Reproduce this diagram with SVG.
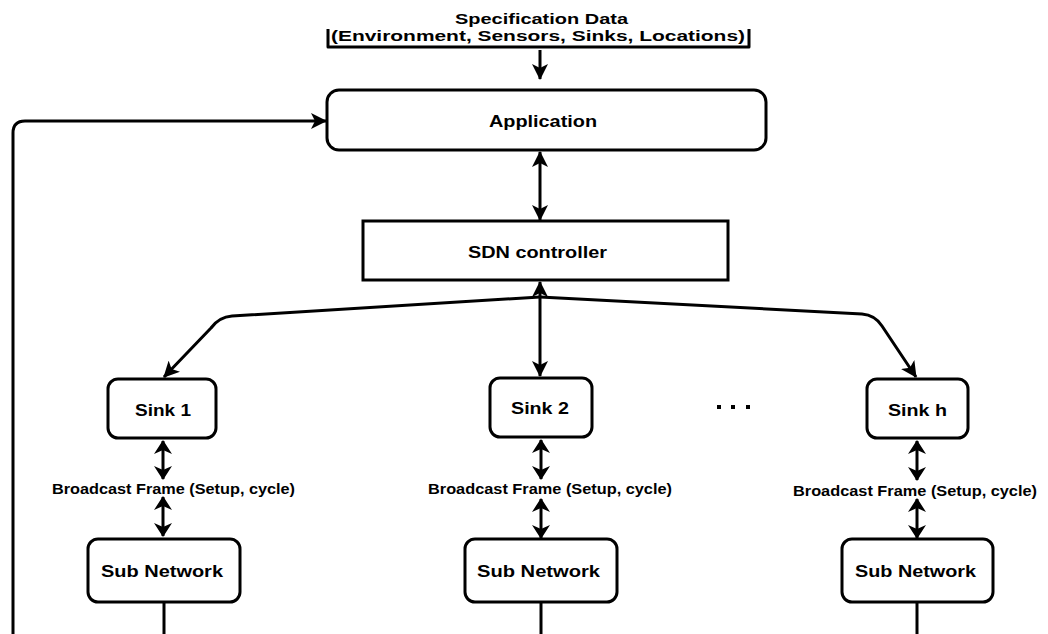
<svg xmlns="http://www.w3.org/2000/svg" width="1048" height="634" viewBox="0 0 1048 634">
<defs>
<style>
.box{fill:#fff;stroke:#000;stroke-width:3}
.ln{fill:none;stroke:#000;stroke-width:3;stroke-linejoin:round}
.t{font-family:"Liberation Sans",Arial,sans-serif;font-weight:bold;fill:#000}
.a{marker-end:url(#ah)}
.d{marker-start:url(#ah);marker-end:url(#ah)}
.s{marker-start:url(#sh);marker-end:url(#sh)}
</style>
<marker id="ah" viewBox="0 0 16 16" refX="15" refY="8" markerWidth="16" markerHeight="16" markerUnits="userSpaceOnUse" orient="auto-start-reverse">
<path d="M0,0 L16,8 L0,16 L4,8 Z" fill="#000"/>
</marker>
<marker id="sh" viewBox="0 0 14 18" refX="13" refY="9" markerWidth="14" markerHeight="18" markerUnits="userSpaceOnUse" orient="auto-start-reverse">
<path d="M0,0 L14,9 L0,18 L4,9 Z" fill="#000"/>
</marker>
</defs>
<rect width="1048" height="634" fill="#fff"/>
<g id="spec">
<text class="t" x="455" y="24" font-size="15" textLength="173" lengthAdjust="spacingAndGlyphs">Specification Data</text>
<text class="t" x="331" y="41" font-size="15" textLength="414" lengthAdjust="spacingAndGlyphs">(Environment, Sensors, Sinks, Locations)</text>
<path class="ln" d="M328,29 L328,47 L749,47 L749,29" stroke-linejoin="miter"/>
</g>
<g id="application">
<rect class="box" x="327" y="90" width="439" height="60" rx="12"/>
<text class="t" x="489" y="127" font-size="16" textLength="108" lengthAdjust="spacingAndGlyphs">Application</text>
</g>
<g id="sdn">
<rect class="box" x="363" y="221" width="365" height="59"/>
<text class="t" x="468" y="258" font-size="16" textLength="139" lengthAdjust="spacingAndGlyphs">SDN controller</text>
</g>
<g id="sink1">
<rect class="box" x="108" y="379" width="108" height="59" rx="10"/>
<text class="t" x="135" y="416" font-size="17" textLength="56" lengthAdjust="spacingAndGlyphs">Sink 1</text>
</g>
<g id="sink2">
<rect class="box" x="490" y="378" width="102" height="59" rx="10"/>
<text class="t" x="511" y="414" font-size="17" textLength="58" lengthAdjust="spacingAndGlyphs">Sink 2</text>
</g>
<g id="sinkh">
<rect class="box" x="867" y="379" width="101" height="59" rx="10"/>
<text class="t" x="888" y="416" font-size="17" textLength="59" lengthAdjust="spacingAndGlyphs">Sink h</text>
</g>
<g id="dots">
<rect x="717" y="405" width="4" height="4" fill="#000"/>
<rect x="731" y="405" width="4" height="4" fill="#000"/>
<rect x="746" y="405" width="4" height="4" fill="#000"/>
</g>
<g id="sub1">
<rect class="box" x="88" y="539" width="152" height="63" rx="10"/>
<text class="t" x="101" y="577" font-size="16" textLength="122" lengthAdjust="spacingAndGlyphs">Sub Network</text>
</g>
<g id="sub2">
<rect class="box" x="465" y="539" width="152" height="63" rx="10"/>
<text class="t" x="477" y="577" font-size="16" textLength="123" lengthAdjust="spacingAndGlyphs">Sub Network</text>
</g>
<g id="subh">
<rect class="box" x="842" y="539" width="151" height="63" rx="10"/>
<text class="t" x="855" y="577" font-size="16" textLength="121" lengthAdjust="spacingAndGlyphs">Sub Network</text>
</g>
<g id="labels">
<text class="t" x="52" y="494" font-size="15" textLength="243" lengthAdjust="spacingAndGlyphs">Broadcast Frame (Setup, cycle)</text>
<text class="t" x="428" y="494" font-size="15" textLength="244" lengthAdjust="spacingAndGlyphs">Broadcast Frame (Setup, cycle)</text>
<text class="t" x="793" y="496" font-size="15" textLength="244" lengthAdjust="spacingAndGlyphs">Broadcast Frame (Setup, cycle)</text>
</g>
<g id="connectors">
<path class="ln a" d="M540,50 L540,79"/>
<path class="ln a" d="M13,634 L13,133 Q13,121 25,121 L326,121"/>
<path class="ln d" d="M540,152 L540,220"/>
<path class="ln d" d="M540,282 L540,376"/>
<path class="ln a" d="M540,297 L232,316 Q219,317 211,328 L164,377"/>
<path class="ln a" d="M540,297 L862,314 Q875,315 882,326 L916,377"/>
<path class="ln s" d="M163,441 L163,479"/>
<path class="ln s" d="M163,497 L163,536"/>
<path class="ln s" d="M541,440 L541,479"/>
<path class="ln s" d="M541,499 L541,538"/>
<path class="ln s" d="M917,441 L917,480"/>
<path class="ln s" d="M917,499 L917,538"/>
<path class="ln" d="M164,602 L164,634"/>
<path class="ln" d="M541,602 L541,634"/>
<path class="ln" d="M917,602 L917,634"/>
</g>
</svg>
